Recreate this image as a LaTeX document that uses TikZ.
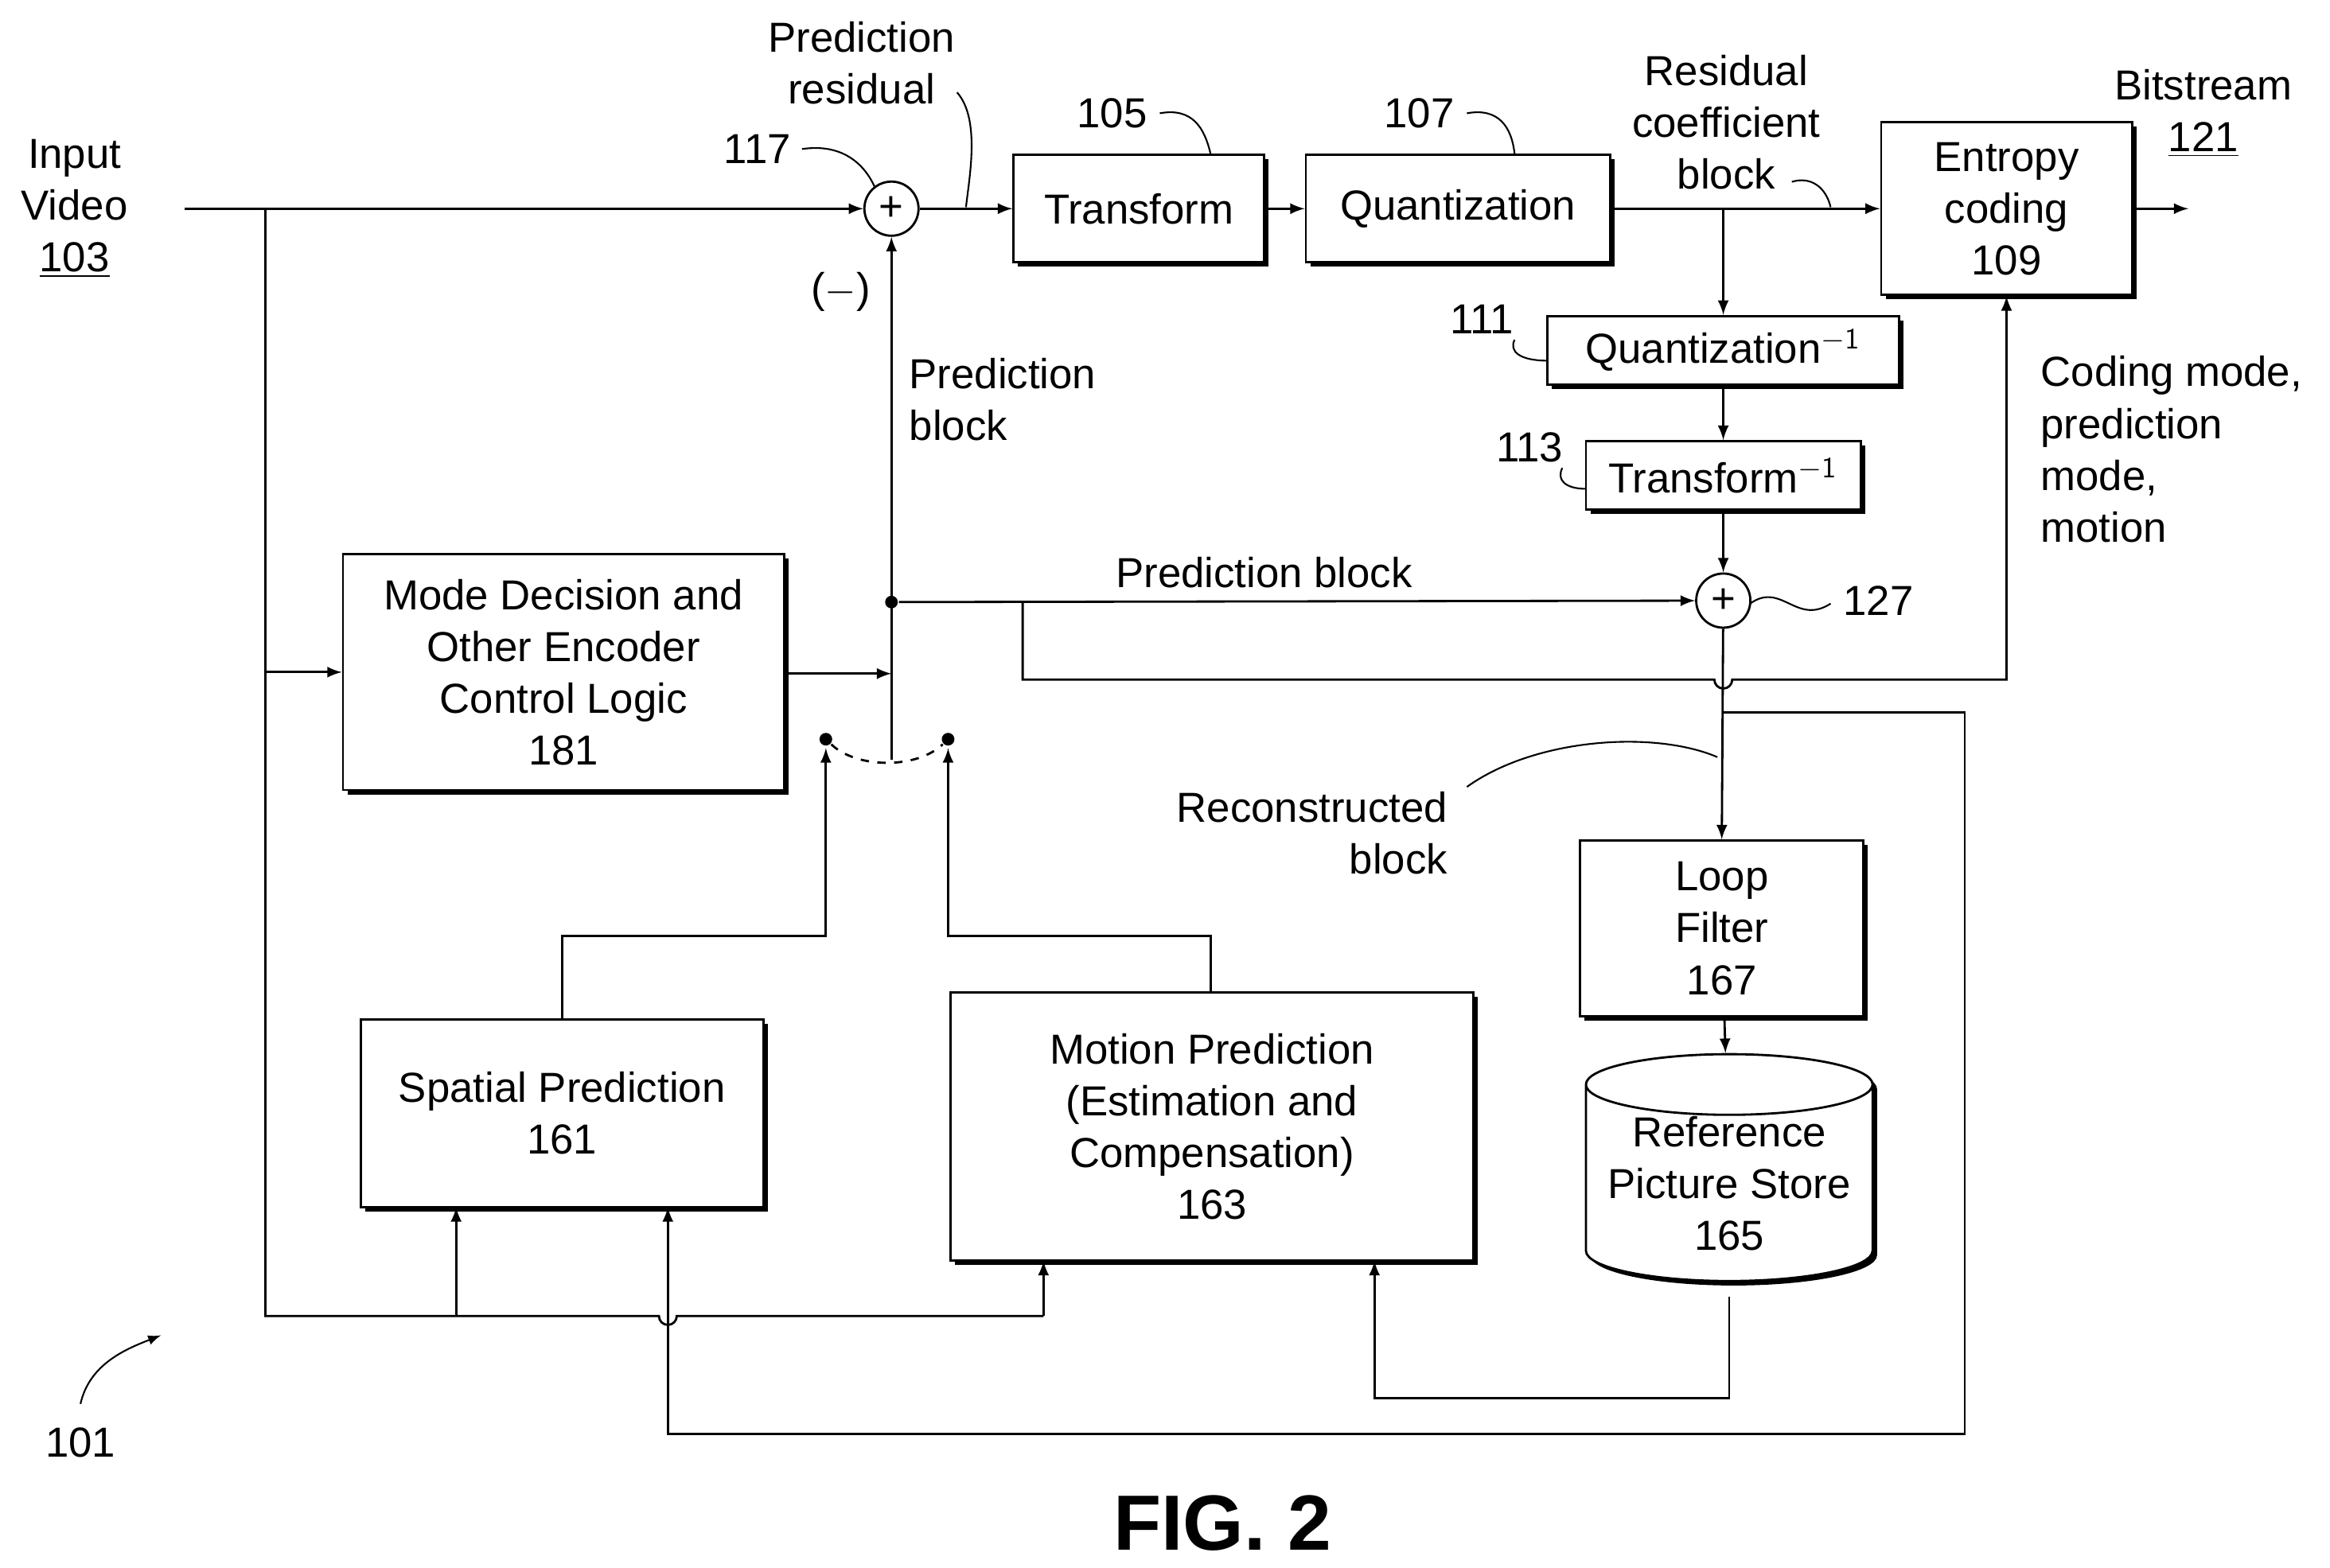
\documentclass[tikz,border=0pt]{standalone}
\usepackage{fontspec}
\setmainfont{Liberation Sans}
\usetikzlibrary{arrows}
\usetikzlibrary{positioning}
\usetikzlibrary{shapes.geometric}

\begin{document}
\begin{tikzpicture}[x=0.01873cm, y=-0.01873cm, >=latex, thick,
    font=\fontsize{15}{18.5}\selectfont,
    box/.style={draw, fill=white, align=center, inner sep=0pt,
      preaction={fill=black, transform canvas={shift={(1.6pt,-1.6pt)}}}},
    sum/.style={circle, draw, fill=white, minimum size=0.68cm, inner sep=0pt},
    lbl/.style={align=center},
    dot/.style={circle, fill, inner sep=1.6pt}]
  \useasboundingbox (0,0) rectangle (1563,1052);

  % blocks
  \node[box, minimum width=3.15cm, minimum height=1.35cm] (trans) at (764,140) {Transform};
  \node[box, minimum width=3.82cm, minimum height=1.35cm] (quant) at (978,140) {Quantization};
  \node[box, minimum width=3.15cm, minimum height=2.17cm] (entropy) at (1346,140) {Entropy\\coding\\109};
  \node[box, minimum width=4.42cm, minimum height=0.86cm] (iquant) at (1156,235) {Quantization$^{\mathsf{-1}}$};
  \node[box, minimum width=3.45cm, minimum height=0.86cm] (itrans) at (1156,319) {Transform$^{\mathsf{-1}}$};
  \node[box, minimum width=5.54cm, minimum height=2.96cm] (mode) at (378,451) {Mode Decision and\\Other Encoder\\Control Logic\\181};
  \node[box, minimum width=5.06cm, minimum height=2.36cm] (spatial) at (377,747) {Spatial Prediction\\161};
  \node[box, minimum width=6.56cm, minimum height=3.37cm] (motion) at (813,756) {Motion Prediction\\(Estimation and\\Compensation)\\163};
  \node[box, minimum width=3.56cm, minimum height=2.21cm] (loop) at (1155,623) {Loop\\Filter\\167};
  \node[box, cylinder, shape border rotate=90, aspect=0.25,
    minimum width=3.6cm, minimum height=2.85cm] (store) at (1160,794) {Reference\\Picture Store\\165};
  \node[sum] (sumA) at (598,140) {+};
  \node[sum] (sumB) at (1156,403) {+};

  % labels
  \node[lbl] (input) at (50,140) {Input\\Video\\\underline{103}};
  \node[lbl] (resid) at (578,42) {Prediction\\residual};
  \node (n117) at (508,100) {117};
  \node (n105) at (746,76) {105};
  \node (n107) at (952,76) {107};
  \node[lbl] (coef) at (1158,82) {Residual\\coefficient\\block};
  \node[lbl] (bits) at (1478,76) {Bitstream\\\underline{121}};
  \node (minus) at (564,196) {($-$)};
  \node[align=left, anchor=west] (pblk) at (603,268) {Prediction\\block};
  \node (n111) at (994,214) {111};
  \node (n113) at (1026,300) {113};
  \node (pblk2) at (848,384) {Prediction block};
  \node (n127) at (1260,403) {127};
  \node[align=left, anchor=north west] (cmode) at (1362,232) {Coding mode,\\prediction\\mode,\\motion};
  \node[align=right, anchor=east] (recon) at (978,559) {Reconstructed\\block};
  \node (n101) at (54,968) {101};
  \node[font=\fontsize{28}{34}\selectfont\bfseries] (fig) at (820,1022) {FIG. 2};

  % coordinates
  \coordinate (in) at (124,140);
  \coordinate (split) at (178,140);
  \coordinate (bot) at (178,883);
  \coordinate (pdot) at (598,404);
  \coordinate (sw) at (598,510);
  \coordinate (dl) at (554,496);
  \coordinate (dr) at (636,496);
  \coordinate (cbr) at (1156,140);
  \coordinate (rbr) at (1156,478);
  \coordinate (out) at (1468,140);

  % main path
  \draw[->] (in) -- (sumA);
  \draw[->] (sumA) -- (trans);
  \draw[->] (trans.east) -- (quant.west);
  \draw[->] (quant.east) -- (entropy.west);
  \draw[->] (entropy.east) -- (out);
  \draw[->] (cbr) -- (iquant.north);
  \draw[->] (iquant) -- (itrans);
  \draw[->] (itrans) -- (sumB);
  \draw[->] (sumB) -- (loop.north);
  \draw[->] (loop) -- (store);

  % input distribution
  \draw (split) -- (bot) -- (442,883) arc (180:0:6) -- (700,883);
  \draw[->] (split |- mode.west) -- (mode.west);
  \draw[->] (306,883) -- (306,810);
  \draw[->] (700,883) -- (700,846);

  % prediction block
  \draw[->] (sw) -- (sumA);
  \node[dot] (pd) at (pdot) {};
  \draw[->] (pd) -- (sumB);
  \draw[->] (686,404) -- (686,456) -- (1150,456) arc (180:0:6) -- (1346,456) -- (entropy.south);
  \draw[->] (mode.east |- 0,452) -- (598,452);
  \node[dot] (dotl) at (dl) {};
  \node[dot] (dotr) at (dr) {};
  \draw[dashed] (dotl) .. controls (575,516) and (615,516) .. (dotr);
  \draw[->] (spatial.north) -- (377,628) -| (554,502);
  \draw[->] (812,666) -- (812,628) -| (636,502);

  % reconstruction feedback
  \draw[->] (rbr) -- (1318,478) -- (1318,962) -- (448,962) -- (448,810);
  \draw[->] (1160,870) -- (1160,938) -| (922,846);

  % leader lines
  \draw[semithick] (642,62) .. controls (658,80) and (650,120) .. (648,139);
  \draw[semithick] (538,100) .. controls (565,96) and (580,110) .. (587,126);
  \draw[semithick] (778,76) .. controls (800,72) and (808,86) .. (812,103);
  \draw[semithick] (984,76) .. controls (1006,72) and (1014,86) .. (1016,103);
  \draw[semithick] (1202,122) .. controls (1215,118) and (1225,126) .. (1228,139);
  \draw[semithick] (1016,228) .. controls (1012,236) and (1020,242) .. (1038,242);
  \draw[semithick] (1048,314) .. controls (1044,322) and (1050,328) .. (1064,328);
  \draw[semithick] (1174,405) .. controls (1195,390) and (1205,420) .. (1228,405);
  \draw[semithick] (984,528) .. controls (1030,495) and (1110,490) .. (1152,508);
  \draw[->, semithick] (54,942) .. controls (60,915) and (85,905) .. (108,896);
\end{tikzpicture}
\end{document}
